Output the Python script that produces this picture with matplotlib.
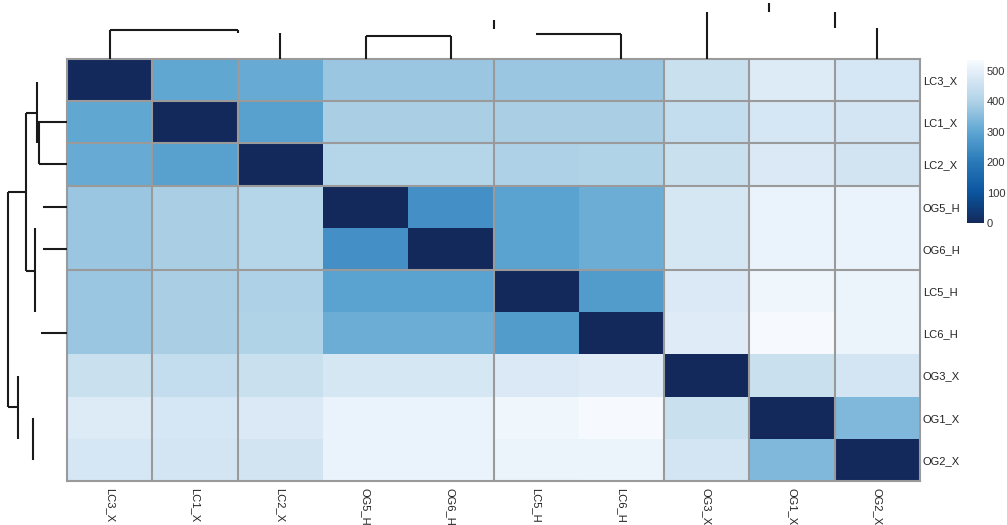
import matplotlib
matplotlib.use("Agg")
import matplotlib.pyplot as plt
import numpy as np
from matplotlib.colors import LinearSegmentedColormap

plt.rcParams['font.family'] = ['Liberation Sans', 'DejaVu Sans']

# labels in dendrogram order
labels = ["LC3_X", "LC1_X", "LC2_X", "OG5_H", "OG6_H", "LC5_H", "LC6_H", "OG3_X", "OG1_X", "OG2_X"]

# distance matrix
dist = np.array([
    [0, 302, 310, 372, 372, 373, 373, 447, 483, 470],
    [302, 0, 290, 391, 391, 392, 392, 438, 470, 466],
    [310, 290, 0, 409, 409, 398, 403, 447, 477, 462],
    [372, 391, 409, 0, 252, 292, 316, 472, 508, 509],
    [372, 391, 409, 252, 0, 292, 316, 472, 508, 509],
    [373, 392, 398, 292, 292, 0, 277, 477, 519, 512],
    [373, 392, 403, 316, 316, 277, 0, 489, 531, 514],
    [447, 438, 447, 472, 472, 477, 489, 0, 447, 466],
    [483, 470, 477, 508, 508, 519, 531, 447, 0, 341],
    [470, 466, 462, 509, 509, 512, 514, 466, 341, 0],
])
vmax = 535
cbar_ticks = [0, 100, 200, 300, 400, 500]

# colour scale anchors (value, colour)
scale_vals = [0, 100, 200, 300, 400, 500, 535]
scale_cols = ["#13295b", "#0b559f", "#2979b9", "#5ea6d2", "#b0d2e7", "#e5eff9", "#f7fbff"]

# block separators (cell edge index)
row_breaks = [1, 2, 3, 5]
col_breaks = [1, 2, 5, 7, 8, 9]

# dendrogram pieces as drawn: (pos0, pos1, height0, height1)
col_dendro = [
    (0, 1.5, 29, 29), (0, 0, 0, 29), (1.5, 1.5, 26, 29),
    (2, 2, 0, 26),
    (3, 4, 23, 23), (3, 3, 0, 23), (4, 4, 0, 23),
    (4.5, 4.5, 30, 39),
    (5, 6, 25, 25), (6, 6, 0, 25),
    (7, 7, 0, 47), (7.73, 7.73, 47, 56), (8.5, 8.5, 31, 47),
    (9, 9, 0, 31),
]
row_dendro = [
    (0.04, 1.5, 29.7, 29.7), (1.0, 1.0, 0, 29.7), (0.77, 0.77, 29.7, 41),
    (1.0, 2.0, 27.7, 27.7), (2.0, 2.0, 0, 27.7),
    (0.77, 4.52, 41, 41), (2.65, 2.65, 41, 58.7), (2.65, 7.75, 58.7, 58.7),
    (3.0, 3.0, 0, 24.3), (4.0, 4.0, 0, 24.3),
    (3.5, 5.5, 31.7, 31.7), (4.52, 4.52, 31.7, 41),
    (6.0, 6.0, 0, 26.3),
    (7.75, 7.75, 49, 58.7), (7.0, 8.5, 49, 49),
    (8.0, 9.0, 33.7, 33.7),
]

cmap = LinearSegmentedColormap.from_list(
    "dist", [(v / vmax, c) for v, c in zip(scale_vals, scale_cols)])

W, H = 1007, 525
fig = plt.figure(figsize=(W / 100, H / 100), dpi=100)


def frac(x0, y0, x1, y1):
    return [x0 / W, 1 - y1 / H, (x1 - x0) / W, (y1 - y0) / H]


n = len(labels)
ax = fig.add_axes(frac(67, 59, 920, 481))
mesh = ax.pcolormesh(np.arange(n + 1) - 0.5, np.arange(n + 1) - 0.5, dist,
                     cmap=cmap, vmin=0, vmax=vmax)
ax.set_xlim(-0.5, n - 0.5)
ax.set_ylim(n - 0.5, -0.5)
for b in row_breaks:
    ax.axhline(b - 0.5, color="#9a9a9a", lw=1.5)
for b in col_breaks:
    ax.axvline(b - 0.5, color="#9a9a9a", lw=1.5)
for s in ax.spines.values():
    s.set_color("#9a9a9a")
    s.set_linewidth(1.5)
ax.set_xticks(range(n))
ax.set_xticklabels(labels, rotation=270, fontsize=8, color="#222222")
ax.set_yticks(range(n))
ax.set_yticklabels(labels, fontsize=8, color="#222222")
ax.yaxis.tick_right()
ax.tick_params(axis="x", length=0, pad=5)
ax.tick_params(axis="y", length=0, pad=2)

# top dendrogram
axt = fig.add_axes(frac(67, 0, 920, 59))
for x0, x1, h0, h1 in col_dendro:
    axt.plot([x0, x1], [h0, h1], color="#1a1a1a", lw=1.5, solid_capstyle="butt")
axt.set_xlim(-0.5, n - 0.5)
axt.set_ylim(0, 59)
axt.axis("off")

# left dendrogram
axl = fig.add_axes(frac(0, 59, 67, 481))
for r0, r1, d0, d1 in row_dendro:
    axl.plot([d0, d1], [r0, r1], color="#1a1a1a", lw=1.5, solid_capstyle="butt")
axl.set_ylim(n - 0.5, -0.5)
axl.set_xlim(67, 0)
axl.axis("off")

# colour bar
axc = fig.add_axes(frac(967, 60, 984, 223))
cb = fig.colorbar(mesh, cax=axc, ticks=cbar_ticks)
cb.outline.set_visible(False)
axc.tick_params(length=0, labelsize=8, labelcolor="#333333", pad=2)

fig.savefig("out.png", dpi=100)
